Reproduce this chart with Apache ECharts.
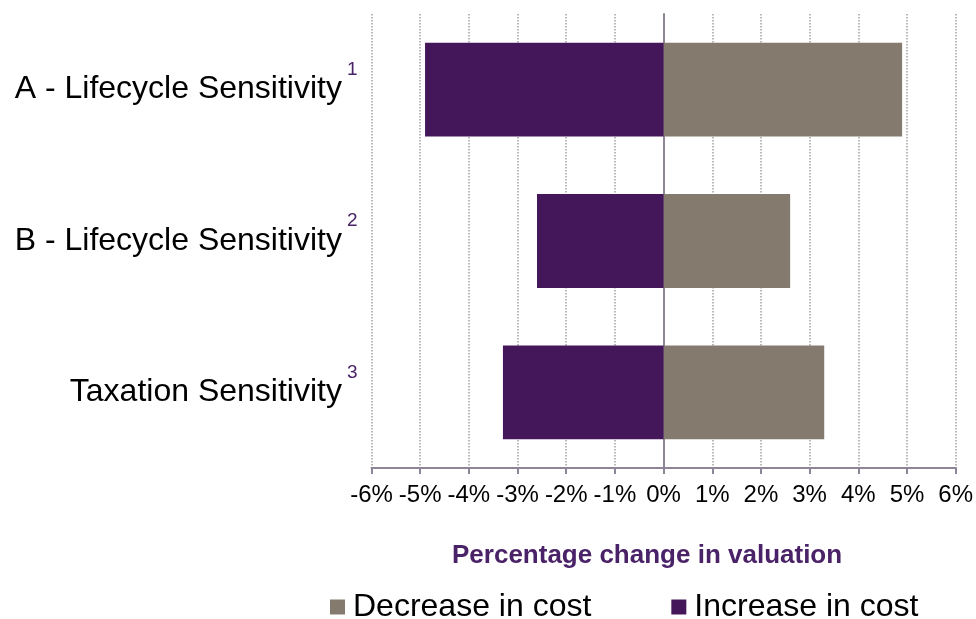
<!DOCTYPE html>
<html>
<head>
<meta charset="utf-8">
<script src="https://cdn.jsdelivr.net/npm/echarts@6/dist/echarts.min.js"></script>
<style>
  html, body { margin: 0; padding: 0; background: #fff; }
  #chart { width: 976px; height: 619px; }
</style>
</head>
<body>
<div id="chart"></div>
<script>
let categories = ['A - Lifecycle Sensitivity', 'B - Lifecycle Sensitivity', 'Taxation Sensitivity'];
let footnotes = ['1', '2', '3'];
let decreaseInCost = [4.9, 2.6, 3.3];
let increaseInCost = [-4.9, -2.6, -3.3];
let xTicks = [-6, -5, -4, -3, -2, -1, 0, 1, 2, 3, 4, 5, 6];

let purple = '#44175b';
let taupe = '#857a6e';
let axisGrey = '#8f8599';
let fontFamily = '"Liberation Sans", Arial, sans-serif';

let myChart = echarts.init(document.getElementById('chart'));

let option = {
    animation: false,
    textStyle: { fontFamily: fontFamily },
    title: {
        text: 'Percentage change in valuation',
        left: 452,
        top: 543,
        padding: 0,
        textStyle: {
            fontFamily: fontFamily,
            fontSize: 26,
            fontWeight: 'bold',
            color: '#4a2268'
        }
    },
    legend: {
        left: 330,
        top: 591,
        padding: 0,
        itemWidth: 15,
        itemHeight: 15,
        itemGap: 80,
        icon: 'rect',
        data: ['Decrease in cost', 'Increase in cost'],
        textStyle: { fontFamily: fontFamily, fontSize: 32, color: '#000', padding: [0, 0, 0, 3] }
    },
    grid: {
        left: 371.5,
        right: 17,
        top: 14,
        bottom: 151
    },
    xAxis: {
        type: 'value',
        min: xTicks[0],
        max: xTicks[xTicks.length - 1],
        interval: 1,
        axisLine: { show: true, onZero: false, lineStyle: { color: axisGrey, width: 2 } },
        axisTick: { show: true, length: 6, lineStyle: { color: axisGrey, width: 2 } },
        axisLabel: {
            color: '#000',
            fontSize: 24,
            margin: 15,
            formatter: function (v) { return v + '%'; }
        },
        splitLine: { show: true, lineStyle: { color: '#a3a3a3', type: [1.5, 1.5], width: 1.5 } }
    },
    yAxis: {
        type: 'category',
        inverse: true,
        data: categories,
        axisLine: { show: true, onZero: true, lineStyle: { color: axisGrey, width: 2 } },
        axisTick: { show: false },
        axisLabel: {
            margin: 14,
            formatter: function (value, idx) {
                return '{n|' + value + '}{s|' + footnotes[idx] + '}';
            },
            rich: {
                n: { fontSize: 32, color: '#000', fontFamily: fontFamily },
                s: { fontSize: 19, color: '#4a2268', fontFamily: fontFamily, padding: [0, 0, 40, 5], verticalAlign: 'top' }
            }
        }
    },
    series: [
        {
            name: 'Decrease in cost',
            type: 'bar',
            stack: 'total',
            barCategoryGap: '38%',
            itemStyle: { color: taupe },
            data: decreaseInCost
        },
        {
            name: 'Increase in cost',
            type: 'bar',
            stack: 'total',
            itemStyle: { color: purple },
            data: increaseInCost
        }
    ]
};

myChart.setOption(option);
</script>
</body>
</html>
